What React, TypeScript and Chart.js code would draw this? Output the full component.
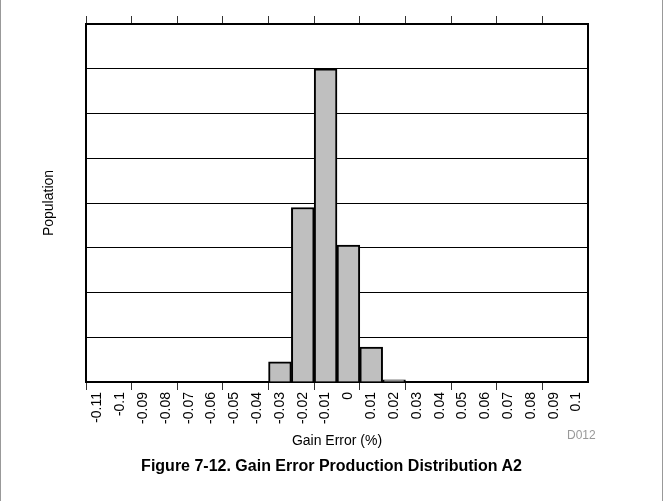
import { useEffect, useRef } from "react";
import { Chart, registerables } from "chart.js";

Chart.register(...registerables);

// one category per bin, labelled by its lower edge (% gain error)
const binLabels = [
  "-0.11", "-0.1", "-0.09", "-0.08", "-0.07", "-0.06", "-0.05", "-0.04", "-0.03", "-0.02", "-0.01", "0",
  "0.01", "0.02", "0.03", "0.04", "0.05", "0.06", "0.07", "0.08", "0.09", "0.1",
];
// bar heights in grid units
const counts = [0, 0, 0, 0, 0, 0, 0, 0, 0.45, 3.9, 7.0, 3.06, 0.78, 0.05, 0, 0, 0, 0, 0, 0, 0, 0];

const font = "'Liberation Sans', Arial, sans-serif";

export default function App() {
  const canvasRef = useRef<HTMLCanvasElement>(null);

  useEffect(() => {
    const canvas = canvasRef.current;
    if (!canvas) return;
    const tickColor = (ctx: any) => (ctx.index % 2 === 0 ? "#333" : "rgba(0,0,0,0)");
    const chart = new Chart(canvas, {
      type: "bar",
      data: {
        labels: binLabels,
        datasets: [
          {
            data: counts,
            backgroundColor: "#bfbfbf",
            borderColor: "#000",
            borderWidth: 2,
            barPercentage: 1,
            categoryPercentage: 1,
          },
        ],
      },
      options: {
        animation: false,
        responsive: false,
        layout: { padding: { left: 36, right: 74, top: 16, bottom: 51 } },
        plugins: { legend: { display: false }, tooltip: { enabled: false } },
        scales: {
          x: {
            afterFit: (s: any) => {
              s.height = 68;
            },
            ticks: {
              color: "#000",
              font: { family: font, size: 14 },
              maxRotation: 90,
              minRotation: 90,
              autoSkip: false,
              padding: 2,
            },
            grid: { offset: true, drawOnChartArea: false, tickLength: 8, color: tickColor, lineWidth: 1 },
            border: { color: "#000", width: 2 },
            title: {
              display: true,
              text: "Gain Error (%)",
              color: "#000",
              font: { family: font, size: 14 },
              padding: 0,
            },
          },
          x2: {
            type: "category",
            position: "top",
            labels: binLabels,
            afterFit: (s: any) => {
              s.height = 8;
            },
            ticks: { display: false },
            grid: { offset: true, drawOnChartArea: false, tickLength: 8, color: tickColor, lineWidth: 1 },
            border: { color: "#000", width: 2 },
          },
          y: {
            min: 0,
            max: 8,
            ticks: { display: false, stepSize: 1 },
            afterFit: (s: any) => {
              s.width = 49;
            },
            grid: { color: "#000", lineWidth: 1, tickLength: 0 },
            border: { color: "#000", width: 2 },
            title: {
              display: true,
              text: "Population",
              color: "#000",
              font: { family: font, size: 14 },
              padding: 4,
            },
          },
          y2: {
            position: "right",
            min: 0,
            max: 8,
            ticks: { display: false },
            grid: { display: false },
            border: { color: "#000", width: 2 },
            afterFit: (s: any) => {
              s.width = 0;
            },
          },
        },
      },
    });
    return () => chart.destroy();
  }, []);

  return (
    <div
      style={{
        position: "fixed",
        left: 0,
        top: 0,
        width: 663,
        height: 501,
        boxSizing: "border-box",
        borderLeft: "1px solid #999",
        borderRight: "1px solid #999",
        background: "#fff",
      }}
    >
      <canvas ref={canvasRef} width={661} height={501} style={{ position: "absolute", left: 0, top: 0 }} />
      <div
        style={{
          position: "absolute",
          left: 566,
          top: 428,
          fontFamily: font,
          fontSize: 12,
          color: "#999",
        }}
      >
        D012
      </div>
      <div
        style={{
          position: "absolute",
          left: 0,
          width: 661,
          top: 457,
          textAlign: "center",
          fontFamily: font,
          fontSize: 16,
          fontWeight: "bold",
          color: "#000",
        }}
      >
        Figure 7-12. Gain Error Production Distribution A2
      </div>
    </div>
  );
}
